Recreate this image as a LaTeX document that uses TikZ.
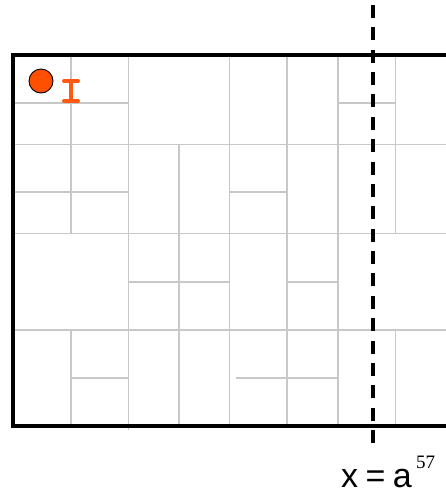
\documentclass[tikz,border=0pt]{standalone}
\usepackage{fontspec}
\setmainfont{Liberation Sans}
\newfontfamily\serifnum{Liberation Serif}
\definecolor{gridgray}{HTML}{C8C8C8}
\definecolor{dotorange}{HTML}{FF4F00}
\definecolor{markorange}{HTML}{FF5A10}
\tikzset{
  gridline/.style={draw=gridgray, line width=1.1pt},
  border/.style={draw=black, line width=3.6pt},
  cutline/.style={draw=black, line width=4pt, dash pattern=on 13pt off 9.37pt},
  marker/.style={draw=markorange, line width=4pt, line cap=round},
}
\begin{document}
\begin{tikzpicture}[x=1pt,y=-1pt]
\useasboundingbox (0,0) rectangle (446,493);
\clip (0,0) rectangle (446,493);
% grid lines
\draw[gridline] (71,55) -- (71,233.5);
\draw[gridline] (71,330) -- (71,426);
\draw[gridline] (128.5,55) -- (128.5,430);
\draw[gridline] (179,144.5) -- (179,426);
\draw[gridline] (229.5,55) -- (229.5,426);
\draw[gridline] (287,55) -- (287,426);
\draw[gridline] (338,55) -- (338,426);
\draw[gridline] (395.5,55) -- (395.5,233.5);
\draw[gridline] (395.5,330) -- (395.5,426);
\draw[gridline] (10.5,103) -- (128.5,103);
\draw[gridline] (338,103) -- (395.5,103);
\draw[gridline] (10.5,144.5) -- (450,144.5);
\draw[gridline] (10.5,192) -- (128.5,192);
\draw[gridline] (229.5,192) -- (287,192);
\draw[gridline] (10.5,233.5) -- (450,233.5);
\draw[gridline] (128.5,282) -- (229.5,282);
\draw[gridline] (287,282) -- (338,282);
\draw[gridline] (10.5,330) -- (450,330);
\draw[gridline] (71,378) -- (128.5,378);
\draw[gridline] (236,378) -- (338,378);
% border
\draw[border] (460,55) -- (13,55) -- (13,426) -- (460,426);
% dashed cut line
\coordinate (cuttop) at (373,5);
\coordinate (cutbot) at (373,443);
\draw[cutline] (cuttop) -- (cutbot);
% dot
\node[circle, draw=black, line width=0.9pt, fill=dotorange, minimum size=24pt, inner sep=0pt] (dot) at (41,81) {};
% I marker
\draw[marker] (71,81) -- (71,101);
\draw[marker] (64,81) -- (78,81);
\draw[marker] (64,101) -- (78,101);
% label
\node[anchor=base west, inner sep=0pt, font=\fontsize{34}{38}\selectfont] (lbl) at (341,487) {x\hspace{-2pt} = \hspace{-2pt}a};
\node[anchor=base west, inner sep=0pt, font=\serifnum\fontsize{19}{22}\selectfont] (exp) at (416,468) {57};
\end{tikzpicture}
\end{document}
